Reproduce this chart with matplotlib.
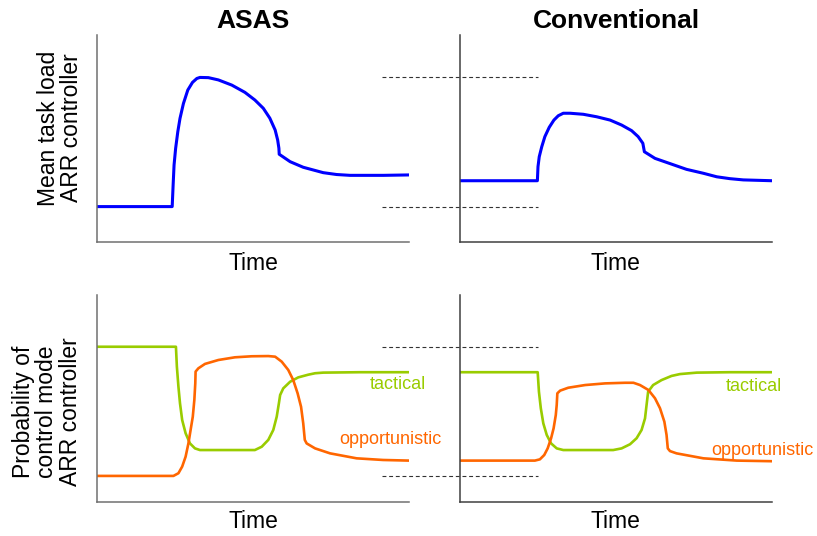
import matplotlib
matplotlib.use("Agg")
import matplotlib.pyplot as plt

plt.rcParams["font.family"] = ["Liberation Sans", "DejaVu Sans"]

# ---------------------------------------------------------------------------
# Data (time 0-100, level 0-100)
# ---------------------------------------------------------------------------
# Mean task load, ASAS
asas_load_t = [0, 24.1, 24.4, 24.7, 25.2, 25.9, 26.6, 27.7, 29.1, 30.6, 32.0, 33.0, 35.7,
               38.9, 43.2, 47.4, 50.6, 53.3, 55.4, 57.1, 57.9, 58.3, 58.4,
               61.9, 66.1, 72.5, 76.8, 81.1, 91.8, 100]
asas_load_y = [17.1, 17.1, 27.5, 37.2, 45.2, 53.3, 59.7, 66.9, 73.4, 77.1, 79.0, 79.5, 79.4,
               78.3, 75.8, 72.3, 68.6, 64.6, 59.8, 54.1, 49.3, 45.3, 42.4,
               38.8, 36.1, 33.5, 32.6, 32.2, 32.2, 32.4]

# Mean task load, conventional
conv_load_t = [0, 24.8, 25.0, 25.4, 26.2, 27.2, 28.6, 30.1, 31.5, 33.1, 35.3,
               39.5, 43.8, 48.1, 51.8, 55.0, 57.1, 58.6, 59.1,
               62.5, 72.6, 78.0, 82.3, 86.5, 90.8, 100]
conv_load_y = [29.6, 29.6, 36.4, 41.2, 46.0, 50.9, 55.4, 58.9, 61.0, 62.2, 62.2,
               61.7, 60.5, 58.9, 56.5, 53.8, 50.9, 47.7, 43.6,
               40.4, 35.1, 33.2, 31.5, 30.6, 30.0, 29.6]

# Probability of control mode, ASAS
asas_tac_t = [0, 25.3, 25.6, 26.1, 26.6, 27.3, 28.4, 29.8, 31.4, 33.0, 50.6,
              52.8, 54.9, 56.5, 57.6, 58.3, 58.7, 59.7, 61.9, 64.5, 67.7, 69.9,
              72.5, 84.3, 100]
asas_tac_y = [75.0, 75.0, 65.4, 55.7, 47.7, 39.6, 33.2, 28.3, 25.9, 25.1, 25.1,
              26.7, 30.0, 34.8, 41.2, 47.7, 51.7, 54.9, 58.1, 60.2, 61.5, 62.2,
              62.5, 62.7, 62.7]
asas_opp_t = [0, 24.5, 26.1, 27.3, 28.4, 29.3, 30.0, 30.7, 31.2, 31.5, 31.6, 32.5, 34.6,
              38.9, 44.2, 49.6, 54.9, 57.1, 59.2, 61.3, 62.9, 64.3, 65.4, 66.1, 66.6,
              67.2, 69.9, 74.7, 83.2, 91.7, 100]
asas_opp_y = [12.6, 12.6, 13.9, 17.1, 21.9, 28.3, 34.8, 41.2, 49.3, 57.3, 63.0, 64.6, 66.7,
              68.6, 69.9, 70.4, 70.5, 70.2, 67.8, 63.8, 58.9, 52.5, 46.0, 38.0, 30.0,
              28.3, 25.9, 23.5, 21.1, 20.3, 20.0]

# Probability of control mode, conventional
conv_tac_t = [0, 24.9, 25.3, 25.9, 26.7, 27.8, 29.2, 31.0, 33.1, 49.1,
              51.8, 54.5, 56.6, 58.2, 59.3, 59.8, 60.3, 61.9, 64.6, 67.8, 70.5,
              75.9, 86.5, 100]
conv_tac_y = [62.7, 62.7, 53.3, 45.3, 38.0, 32.4, 28.3, 25.9, 25.1, 25.1,
              25.9, 27.9, 30.8, 34.8, 40.4, 46.9, 53.3, 56.5, 58.9, 60.9, 61.8,
              62.5, 62.7, 62.7]
conv_opp_t = [0, 24.0, 25.6, 27.0, 28.1, 29.2, 30.0, 30.7, 31.0, 31.2, 32.1, 34.7,
              40.1, 46.5, 52.9, 55.6, 57.7, 60.4, 62.5, 64.1, 65.5, 66.2, 66.6,
              67.3, 69.4, 78.0, 88.7, 100]
conv_opp_y = [20.0, 20.0, 20.6, 22.7, 25.9, 30.8, 35.6, 42.0, 46.9, 52.5, 53.8, 55.2,
              56.5, 57.3, 57.6, 57.6, 56.5, 54.1, 50.1, 45.3, 38.8, 32.4, 25.9,
              24.6, 23.5, 21.1, 20.0, 19.7]

# reference levels (ASAS peak/baseline) shown dashed between panels
load_refs = [79.9, 17.1]
mode_refs = [75.0, 12.6]

BLUE = "#0000ff"
GREEN = "#99cc00"
ORANGE = "#ff6600"

# ---------------------------------------------------------------------------
# Figure
# ---------------------------------------------------------------------------
W, H = 817, 536
fig = plt.figure(figsize=(W / 100, H / 100), dpi=100)


def px_axes(x0, y_top, w, h):
    return fig.add_axes([x0 / W, (H - y_top - h) / H, w / W, h / H])


ax_tl = px_axes(97, 35, 312, 207)
ax_tr = px_axes(460, 35, 312, 207)
ax_bl = px_axes(97, 295, 312, 207)
ax_br = px_axes(460, 295, 312, 207)

for ax, spc in [(ax_tl, "#707070"), (ax_bl, "#707070"), (ax_tr, "#404040"), (ax_br, "#404040")]:
    ax.set_xlim(0, 100)
    ax.set_ylim(0, 100)
    ax.set_xticks([])
    ax.set_yticks([])
    ax.spines["top"].set_visible(False)
    ax.spines["right"].set_visible(False)
    for s in ("left", "bottom"):
        ax.spines[s].set_color(spc)
        ax.spines[s].set_linewidth(1.1)
    ax.patch.set_visible(False)

ax_tl.plot(asas_load_t, asas_load_y, color=BLUE, lw=2.2, solid_joinstyle="round")
ax_tr.plot(conv_load_t, conv_load_y, color=BLUE, lw=2.2, solid_joinstyle="round")

ax_bl.plot(asas_tac_t, asas_tac_y, color=GREEN, lw=1.9, solid_joinstyle="round")
ax_bl.plot(asas_opp_t, asas_opp_y, color=ORANGE, lw=1.9, solid_joinstyle="round")
ax_br.plot(conv_tac_t, conv_tac_y, color=GREEN, lw=1.9, solid_joinstyle="round")
ax_br.plot(conv_opp_t, conv_opp_y, color=ORANGE, lw=1.9, solid_joinstyle="round")

for ax, refs in [(ax_tr, load_refs), (ax_br, mode_refs)]:
    for r in refs:
        ax.plot([-25, 25], [r, r], color="#333333", lw=0.8, ls=(0, (3.5, 2.5)), clip_on=False)

lab = dict(fontsize=13)
ax_bl.text(87.5, 57.0, "tactical", color=GREEN, va="center", **lab)
ax_bl.text(77.6, 30.0, "opportunistic", color=ORANGE, va="center", **lab)
ax_br.text(85.3, 55.7, "tactical", color=GREEN, va="center", **lab)
ax_br.text(80.4, 25.1, "opportunistic", color=ORANGE, va="center", **lab)

# titles
fig.text(253 / W, 1 - 21 / H, "ASAS", ha="center", va="center", fontsize=19, fontweight="bold")
fig.text(616 / W, 1 - 21 / H, "Conventional", ha="center", va="center", fontsize=19, fontweight="bold")

# x labels
for xc, yc in [(253, 263), (615, 263), (253, 522), (615, 522)]:
    fig.text(xc / W, 1 - yc / H, "Time", ha="center", va="center", fontsize=16.5)

# y labels
fig.text(60 / W, 1 - 128 / H, "Mean task load\nARR controller", rotation=90,
         ha="center", va="center", fontsize=16.5, linespacing=1.05, multialignment="center")
fig.text(47 / W, 1 - 412 / H, "Probability of\ncontrol mode\nARR controller", rotation=90,
         ha="center", va="center", fontsize=16.5, linespacing=1.05, multialignment="center")

fig.savefig("out.png", dpi=100)
